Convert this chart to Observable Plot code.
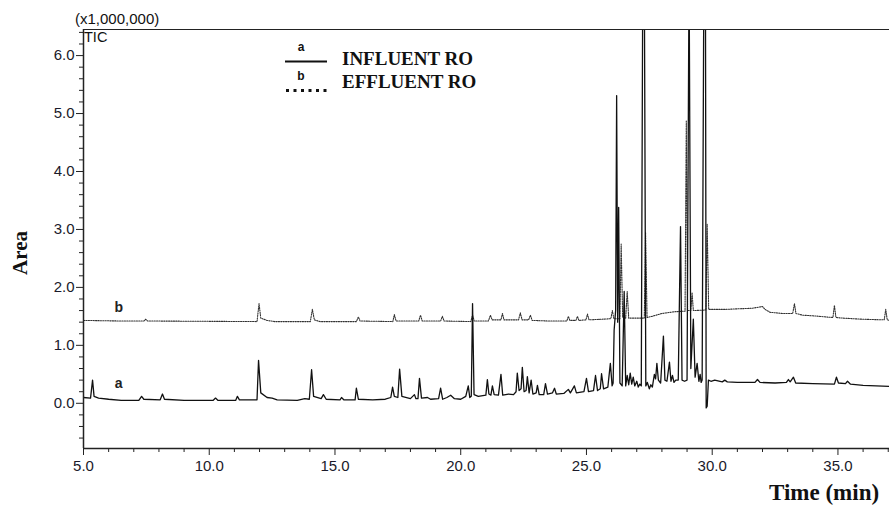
<!DOCTYPE html>
<html><head><meta charset="utf-8">
<script src="https://cdn.jsdelivr.net/npm/d3@7"></script>
<script src="https://cdn.jsdelivr.net/npm/@observablehq/plot@0.6"></script>
<style>
body{margin:0;background:#fff;}
#wrap{position:relative;width:889px;height:505px;overflow:hidden;}
.ov{position:absolute;white-space:nowrap;color:#111;}
.serif{font-family:"Liberation Serif","Times New Roman",serif;font-weight:bold;}
.sans{font-family:"Liberation Sans",Arial,sans-serif;}
</style></head><body><div id="wrap"></div>
<script>
// Trace a: INFLUENT RO (time in min, area x1,000,000)
const timeA = [5.0,5.28,5.36,5.42,5.6,6.0,6.5,7.2,7.31,7.4,8.05,8.14,8.22,9.0,10.15,10.25,10.35,11.05,11.12,11.2,11.9,11.96,12.05,12.3,12.5,12.7,13.5,13.8,13.98,14.07,14.15,14.45,14.54,14.65,15.2,15.26,15.35,15.8,15.85,15.93,16.5,17.0,17.22,17.29,17.36,17.5,17.57,17.66,18.0,18.16,18.22,18.3,18.36,18.44,18.68,18.8,19.12,19.2,19.28,19.45,19.6,19.75,20.0,20.2,20.3,20.36,20.42,20.47,20.53,20.7,21.0,21.06,21.12,21.2,21.26,21.33,21.5,21.6,21.67,21.9,22.1,22.2,22.25,22.32,22.4,22.45,22.52,22.6,22.65,22.72,22.8,22.87,23.0,23.05,23.12,23.3,23.37,23.45,23.65,23.73,23.8,24.1,24.28,24.36,24.52,24.6,24.9,25.0,25.08,25.28,25.36,25.44,25.55,25.6,25.68,
  25.85,25.95,26.02,26.06,26.1,26.16,26.2,26.24,26.28,26.33,26.42,26.5,26.56,26.62,26.68,26.74,26.8,26.86,26.92,27.0,27.06,27.12,27.18,27.24,27.27,27.3,27.36,27.42,27.5,27.56,27.62,27.7,27.75,27.8,27.86,27.95,28.06,28.12,28.2,28.3,28.36,28.42,28.48,28.55,28.65,28.74,28.8,28.9,29.0,29.08,29.15,29.25,29.32,29.4,29.47,29.52,29.56,29.6,29.67,29.7,29.73,29.76,29.8,29.85,
  29.95,30.1,30.4,30.5,30.6,31.0,31.7,31.8,31.9,32.5,32.95,33.03,33.1,33.23,33.32,34.0,34.86,34.94,35.02,35.3,35.38,35.5,36.0,37.05];
const areaA = [0.10,0.09,0.40,0.12,0.09,0.07,0.05,0.05,0.12,0.07,0.06,0.16,0.07,0.05,0.05,0.09,0.05,0.05,0.12,0.06,0.06,0.74,0.18,0.10,0.09,0.06,0.05,0.08,0.07,0.58,0.12,0.08,0.15,0.07,0.06,0.10,0.06,0.06,0.26,0.07,0.06,0.07,0.10,0.28,0.12,0.10,0.59,0.12,0.08,0.15,0.08,0.08,0.43,0.09,0.10,0.07,0.08,0.26,0.07,0.10,0.14,0.08,0.07,0.12,0.30,0.10,0.12,1.72,0.15,0.12,0.14,0.41,0.16,0.14,0.30,0.15,0.14,0.50,0.14,0.16,0.15,0.20,0.52,0.22,0.25,0.62,0.20,0.22,0.46,0.18,0.40,0.16,0.18,0.31,0.15,0.15,0.34,0.16,0.18,0.26,0.16,0.17,0.24,0.18,0.30,0.18,0.20,0.43,0.20,0.22,0.48,0.22,0.25,0.51,0.25,
  0.28,0.69,0.30,0.35,1.26,1.6,5.31,1.4,3.38,0.35,0.30,1.93,0.30,0.48,0.32,0.52,0.33,0.45,0.30,0.38,0.28,0.33,0.30,7.5,7.5,7.5,0.30,0.36,0.25,0.32,0.28,0.50,0.42,0.69,0.40,0.35,1.16,0.40,0.38,0.71,0.38,0.48,0.36,0.40,0.40,3.05,0.40,0.38,0.40,7.5,0.60,1.45,0.45,0.69,0.38,0.50,0.36,0.40,7.5,7.5,7.5,-0.08,-0.05,0.40,
  0.38,0.40,0.37,0.40,0.37,0.36,0.36,0.41,0.36,0.35,0.36,0.41,0.37,0.45,0.35,0.34,0.33,0.45,0.35,0.34,0.38,0.33,0.31,0.29];
// Trace b: EFFLUENT RO
const timeB = [5.0,6.5,7.4,7.47,7.55,11.9,11.98,12.05,12.3,12.6,14.02,14.1,14.18,14.4,15.85,15.93,16.0,17.3,17.36,17.43,18.33,18.4,18.47,19.2,19.27,19.34,20.4,20.47,20.54,21.1,21.18,21.25,21.6,21.66,21.72,22.3,22.37,22.44,22.7,22.77,22.84,23.5,24.22,24.28,24.34,24.58,24.64,24.7,24.98,25.04,25.1,25.6,25.97,26.03,26.09,26.33,26.38,26.44,26.56,26.62,26.68,27.0,27.3,27.35,27.41,27.6,28.0,28.5,28.92,28.97,29.02,29.15,29.2,29.25,29.75,29.8,29.86,30.5,31.0,31.6,32.0,32.1,32.3,32.8,33.2,33.27,33.33,33.6,34.0,34.8,34.86,34.92,35.2,36.0,36.84,36.9,36.96,37.05];
const areaB = [1.43,1.42,1.42,1.45,1.42,1.41,1.72,1.47,1.43,1.41,1.41,1.62,1.44,1.41,1.41,1.49,1.42,1.41,1.53,1.42,1.42,1.52,1.42,1.42,1.50,1.42,1.41,1.52,1.42,1.42,1.52,1.44,1.44,1.55,1.44,1.44,1.56,1.44,1.44,1.52,1.43,1.42,1.42,1.50,1.43,1.43,1.50,1.43,1.44,1.54,1.44,1.45,1.46,1.60,1.46,1.46,2.75,1.48,1.47,1.93,1.47,1.47,1.47,2.95,1.48,1.50,1.55,1.58,1.59,4.88,1.60,1.60,1.91,1.60,1.61,3.09,1.62,1.62,1.63,1.64,1.67,1.62,1.57,1.55,1.55,1.72,1.55,1.52,1.51,1.48,1.69,1.48,1.47,1.45,1.44,1.62,1.44,1.43];
// Axis ticks
const xMajor = [5,10,15,20,25,30,35];
const xMinor = [6,7,8,9,11,12,13,14,16,17,18,19,21,22,23,24,26,27,28,29,31,32,33,34,36,37];
const yMajor = [0,1,2,3,4,5,6];
const yMinor = [-0.6,-0.4,-0.2,0.2,0.4,0.6,0.8,1.2,1.4,1.6,1.8,2.2,2.4,2.6,2.8,3.2,3.4,3.6,3.8,4.2,4.4,4.6,4.8,5.2,5.4,5.6,5.8,6.2,6.4];

const traceA = timeA.map((t,i)=>({t, v: areaA[i]}));
const traceB = timeB.map((t,i)=>({t, v: areaB[i]}));
const XD = [5, 37.05], YD = [-0.78, 6.45];

const chart = Plot.plot({
  width: 889, height: 505,
  marginLeft: 83, marginTop: 29, marginBottom: 57, marginRight: 0,
  style: {fontFamily: '"Liberation Sans", Arial, sans-serif', fontSize: "15px", color: "#1a1a2a", background: "#fff"},
  x: {domain: XD},
  y: {domain: YD},
  marks: [
    Plot.axisY({ticks: yMinor, tickSize: 4, tickFormat: () => "", label: null, stroke: "#222"}),
    Plot.axisY({ticks: yMajor, tickSize: 7, tickPadding: 2, tickFormat: d => d.toFixed(1), label: null, stroke: "#222"}),
    Plot.axisX({ticks: xMinor, tickSize: 4, tickFormat: () => "", label: null, stroke: "#222"}),
    Plot.axisX({ticks: xMajor, tickSize: 7, tickPadding: 5, tickFormat: d => d.toFixed(1), label: null, stroke: "#222"}),
    Plot.line(traceB, {x: "t", y: "v", stroke: "#333", strokeWidth: 1.1, strokeDasharray: "1.2,1.2", clip: true}),
    Plot.line(traceA, {x: "t", y: "v", stroke: "#111", strokeWidth: 1.3, clip: true}),
    Plot.ruleY([YD[1]], {stroke: "#222", strokeWidth: 1.2}),
    Plot.ruleY([YD[0]], {stroke: "#222", strokeWidth: 1.5}),
    Plot.ruleX([XD[0]], {stroke: "#222", strokeWidth: 1.5}),
    Plot.text(["b"], {x: 6.4, y: 1.66, text: d => d, fontSize: 14, fontWeight: "bold", fill: "#222"}),
    Plot.text(["a"], {x: 6.4, y: 0.34, text: d => d, fontSize: 14, fontWeight: "bold", fill: "#222"})
  ]
});

const wrap = document.getElementById("wrap");
wrap.appendChild(chart);
chart.style.position = "absolute"; chart.style.left = "0"; chart.style.top = "0";

function ov(html, css, cls) {
  const d = document.createElement("div");
  d.className = "ov " + cls;
  d.innerHTML = html;
  Object.assign(d.style, css);
  wrap.appendChild(d);
  return d;
}
ov("(x1,000,000)", {left: "75px", top: "10px", fontSize: "15px", lineHeight: "18px"}, "sans");
ov("TIC", {left: "84px", top: "29px", fontSize: "14.5px", lineHeight: "17px"}, "sans");
ov("Area", {left: "20px", top: "253px", fontSize: "21px", transform: "translate(-50%,-50%) rotate(-90deg)"}, "serif");
ov("Time (min)", {left: "769px", top: "479px", fontSize: "23px", lineHeight: "27px"}, "serif");
// legend
const leg = `<svg width="50" height="60" style="position:absolute;left:280px;top:38px">
 <text x="21" y="13" font-family="Liberation Sans, Arial" font-weight="bold" font-size="12" text-anchor="middle" fill="#111">a</text>
 <line x1="5" x2="47" y1="23.5" y2="23.5" stroke="#111" stroke-width="2"/>
 <text x="21" y="42" font-family="Liberation Sans, Arial" font-weight="bold" font-size="12" text-anchor="middle" fill="#111">b</text>
 <line x1="6" x2="47" y1="52.5" y2="52.5" stroke="#111" stroke-width="3" stroke-dasharray="3,4.5"/>
</svg>`;
wrap.insertAdjacentHTML("beforeend", leg);
ov("INFLUENT RO", {left: "342px", top: "48px", fontSize: "19px", lineHeight: "22px"}, "serif");
ov("EFFLUENT RO", {left: "342px", top: "71px", fontSize: "19px", lineHeight: "22px"}, "serif");
</script></body></html>
